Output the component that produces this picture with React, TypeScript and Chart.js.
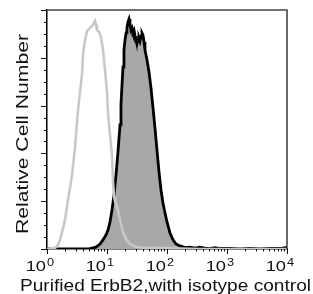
import React, { useEffect, useRef } from "react";
import { Chart, registerables } from "chart.js";

Chart.register(...registerables);

// Decades of the log fluorescence axis (labels drawn as 10^d)
const xDecades = [0, 1, 2, 3, 4];
const xExponentLabels = ["0", "1", "2", "3", "4"];
// Y axis (relative cell number, % of max)
const yMajorTicks = [0, 20, 40, 60, 80, 100];
const yMinorStep = 5;

// Purified ErbB2 (black outline, grey fill): log10 intensity, relative count
const erbLog = [
  0, 0.683, 0.75, 0.817, 0.883, 0.933, 0.983, 1.017, 1.05, 1.083, 1.117, 1.15, 1.183, 1.217,
  1.233, 1.25, 1.267, 1.283, 1.3, 1.317, 1.333, 1.35, 1.367, 1.383, 1.4, 1.417, 1.433, 1.45,
  1.467, 1.483, 1.5, 1.517, 1.533, 1.55, 1.567, 1.583, 1.6, 1.617, 1.633, 1.65, 1.667, 1.7,
  1.733, 1.767, 1.8, 1.833, 1.867, 1.9, 1.933, 1.967, 2.0, 2.05, 2.1, 2.15, 2.217, 2.3, 2.383,
  2.467, 2.55, 2.633, 2.717, 2.8, 2.883, 3.05, 3.217, 3.383, 3.55, 3.717, 3.883, 3.983, 4.0,
];
const erbCount = [
  0, 0, 0.4, 0.8, 2.1, 3.8, 5.9, 7.9, 11.3, 16.3, 22.6, 31, 40.6, 51.9,
  60.3, 68.6, 76.2, 83.3, 87.4, 90.4, 92.5, 95, 96.2, 94.1, 91.6, 92.5, 90.8, 91.6,
  89.1, 87.4, 85.8, 87.4, 88.3, 87, 89.1, 90.4, 89.5, 86.6, 83.3, 81.2, 79.1, 74.1,
  67.4, 59, 50.6, 41.4, 32.2, 24.7, 19.2, 15.1, 11.3, 6.7, 3.8, 2.1, 1.3, 0.6, 0.8,
  0.4, 0.8, 0.4, 0.2, 0.6, 0.2, 0.2, 0, 0.2, 0, 0.2, 0.2, 0.6, 0,
];

// Isotype control (light grey outline): log10 intensity, relative count
const isoLog = [
  0, 0.05, 0.133, 0.183, 0.217, 0.267, 0.3, 0.35, 0.383, 0.417, 0.467, 0.517, 0.55, 0.583,
  0.6, 0.633, 0.667, 0.717, 0.767, 0.8, 0.817, 0.833, 0.867, 0.9, 0.933, 0.967, 1.0, 1.017,
  1.05, 1.083, 1.1, 1.117, 1.133, 1.183, 1.217, 1.267, 1.317, 1.383, 1.467, 1.55, 1.717,
  1.967, 2.217, 2.55, 4.0,
];
const isoCount = [
  0, 0.2, 0.4, 1.7, 3.8, 8.8, 12.1, 20.5, 25.5, 31, 42.7, 58.2, 65.7, 72.8,
  81.2, 87.4, 91.2, 92.5, 93.7, 95.4, 93.7, 91.6, 90.8, 88.7, 83.3, 74.9, 65.7, 56.9,
  47.7, 39.3, 28, 22.2, 20.1, 16.3, 12.1, 7.1, 4.2, 2.1, 1, 0.6, 0.4,
  0.4, 0.2, 0, 0,
];

const xTitle = "Purified ErbB2,with isotype control";
const yTitle = "Relative Cell Number";

const FONT = '"Liberation Sans", Arial, Helvetica, sans-serif';

function stretchedText(
  ctx: CanvasRenderingContext2D,
  text: string,
  x: number,
  y: number,
  size: number,
  sx: number,
  align: CanvasTextAlign,
  rot = 0
) {
  ctx.save();
  ctx.translate(x, y);
  if (rot) ctx.rotate(rot);
  ctx.scale(sx, 1);
  ctx.font = `${size}px ${FONT}`;
  ctx.textAlign = align;
  ctx.textBaseline = "alphabetic";
  ctx.fillText(text, 0, 0);
  ctx.restore();
}

export default function App() {
  const ref = useRef<HTMLCanvasElement>(null);

  useEffect(() => {
    document.body.style.margin = "0";
    const canvas = ref.current!;

    const decor = {
      id: "decor",
      afterDraw(chart: any) {
        const { ctx, chartArea: a, scales } = chart;
        const xs = scales.x;
        const ys = scales.y;
        ctx.save();

        // top / right frame
        ctx.strokeStyle = "#444";
        ctx.lineWidth = 1.6;
        ctx.beginPath();
        ctx.moveTo(a.left, a.top);
        ctx.lineTo(a.right, a.top);
        ctx.lineTo(a.right, a.bottom);
        ctx.stroke();

        // y ticks
        ctx.strokeStyle = "#111";
        ctx.lineWidth = 1;
        ctx.beginPath();
        for (let v = 0; v <= 100; v += yMinorStep) {
          const y = Math.round(ys.getPixelForValue(v)) + 0.5;
          const len = yMajorTicks.includes(v) ? 6 : 3;
          ctx.moveTo(a.left, y);
          ctx.lineTo(a.left - len, y);
        }
        // x ticks (log)
        for (let d = 0; d < xDecades.length; d++) {
          const dec = xDecades[d];
          const xm = Math.round(xs.getPixelForValue(10 ** dec)) + 0.5;
          ctx.moveTo(xm, a.bottom);
          ctx.lineTo(xm, a.bottom + 5);
          if (d < xDecades.length - 1) {
            for (let k = 2; k <= 9; k++) {
              const x = Math.round(xs.getPixelForValue(k * 10 ** dec)) + 0.5;
              ctx.moveTo(x, a.bottom);
              ctx.lineTo(x, a.bottom + 2.5);
            }
          }
        }
        ctx.stroke();

        // x tick labels 10^d
        ctx.fillStyle = "#111";
        xDecades.forEach((dec, i) => {
          const x = xs.getPixelForValue(10 ** dec);
          stretchedText(ctx, "10", x - 1, 270.5, 15, 1.22, "right");
          stretchedText(ctx, xExponentLabels[i], x, 265.5, 11, 1.15, "left");
        });

        // x title
        ctx.font = `16px ${FONT}`;
        const wx = ctx.measureText(xTitle).width;
        stretchedText(ctx, xTitle, 20, 290.5, 16, 291 / wx, "left");

        // y title
        ctx.font = `17px ${FONT}`;
        const wy = ctx.measureText(yTitle).width;
        stretchedText(ctx, yTitle, 27.5, 234, 17, 200 / wy, "left", -Math.PI / 2);

        ctx.restore();
      },
    };

    const chart = new Chart(canvas, {
      type: "line",
      data: {
        datasets: [
          {
            label: "Isotype control",
            data: isoLog.map((l, i) => ({ x: 10 ** l, y: isoCount[i] })),
            borderColor: "#c8c8c8",
            borderWidth: 2.6,
            pointRadius: 0,
            fill: false,
            tension: 0,
          },
          {
            label: "Purified ErbB2",
            data: erbLog.map((l, i) => ({ x: 10 ** l, y: erbCount[i] })),
            borderColor: "#000",
            borderWidth: 2.8,
            backgroundColor: "#a8a8a8",
            pointRadius: 0,
            fill: "origin",
            tension: 0,
          },
        ],
      },
      options: {
        animation: false,
        responsive: false,
        devicePixelRatio: 1,
        layout: { padding: { top: 10, right: 26, left: 0, bottom: 0 } },
        plugins: { legend: { display: false }, tooltip: { enabled: false } },
        scales: {
          x: {
            type: "logarithmic",
            min: 1,
            max: 10000,
            grid: { display: false },
            ticks: { display: false },
            border: { display: true, color: "#000", width: 1.5 },
            afterFit: (s: any) => {
              s.height = 45;
            },
          },
          y: {
            type: "linear",
            min: 0,
            max: 100,
            grid: { display: false },
            ticks: { display: false },
            border: { display: true, color: "#000", width: 1.5 },
            afterFit: (s: any) => {
              s.width = 47;
            },
          },
        },
      },
      plugins: [decor],
    } as any);

    return () => chart.destroy();
  }, []);

  return (
    <div style={{ width: 313, height: 294, background: "#fff" }}>
      <canvas ref={ref} width={313} height={294} style={{ display: "block" }} />
    </div>
  );
}
